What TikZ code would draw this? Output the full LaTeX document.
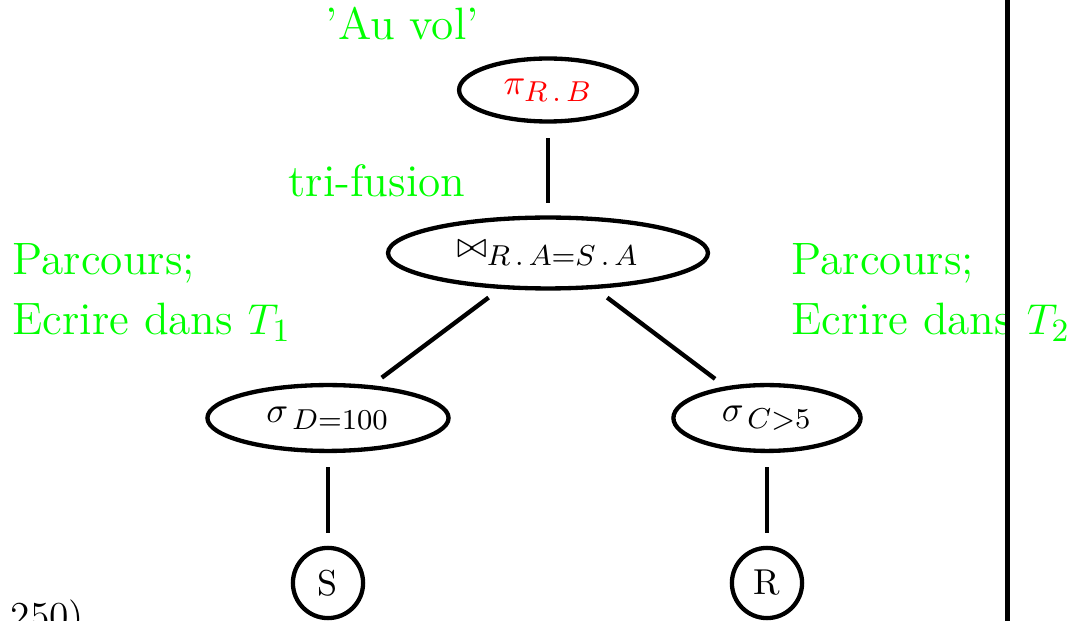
\documentclass[tikz,border=0pt]{standalone}
\usepackage{amsmath,amssymb}
\usepackage{xcolor}
\usepackage{tikz}
\usetikzlibrary{shapes.geometric}
\DeclareMathSizes{10}{10}{8}{6}
\definecolor{grn}{HTML}{00FF00}
\definecolor{rd}{HTML}{FF0000}
\tikzset{
  op/.style={ellipse,draw,very thick,inner sep=1pt},
  rel/.style={circle,draw,very thick,minimum size=19.5pt,inner sep=0pt},
  ln/.style={very thick,shorten <=4pt,shorten >=3.5pt},
  lab/.style={font=\fontsize{12.6}{15}\selectfont,text=grn,anchor=base west,inner sep=0pt}
}
\begin{document}
\begin{tikzpicture}[x=0.00976cm,y=0.00976cm]
\useasboundingbox (0,0) rectangle (1070,621);
% operateurs
\node[op,minimum width=49.4pt,minimum height=17.5pt] (proj) at (548,531) {\color{rd}$\pi_{R\,.\,B}$};
\node[op,minimum width=88.9pt,minimum height=19.7pt] (join) at (548,368) {$\bowtie_{R\,.\,A=S\,.\,A}$};
\node[op,minimum width=67pt,minimum height=18.3pt] (selD) at (328,203) {$\sigma_{\,D=100}$};
\node[op,minimum width=52pt,minimum height=18.3pt] (selC) at (767,203) {$\sigma_{\,C>5}$};
% relations
\node[rel] (relS) at (328,38) {S};
\node[rel] (relR) at (767,38) {R};
\draw[ln] (proj) -- (join);
\draw[ln] (join) -- (selD);
\draw[ln] (join) -- (selC);
\draw[ln] (selD) -- (relS);
\draw[ln] (selC) -- (relR);
% annotations
\node[lab] (auvol) at (325,581) {'Au vol'};
\node[lab] (trif) at (288,424) {tri-fusion};
\node[lab] (parcA) at (12,346) {Parcours;};
\node[lab] (ecrA) at (12,286) {Ecrire dans $T_1$};
\node[lab] (parcB) at (791,346) {Parcours;};
\node[lab] (ecrB) at (791,286) {Ecrire dans $T_2$};
\node[anchor=base west,inner sep=0pt,font=\fontsize{11}{13}\selectfont] (reste) at (10,-9) {250)};
\draw[line width=1.4pt] (1007.5,-10) -- (1007.5,631);
\end{tikzpicture}
\end{document}
